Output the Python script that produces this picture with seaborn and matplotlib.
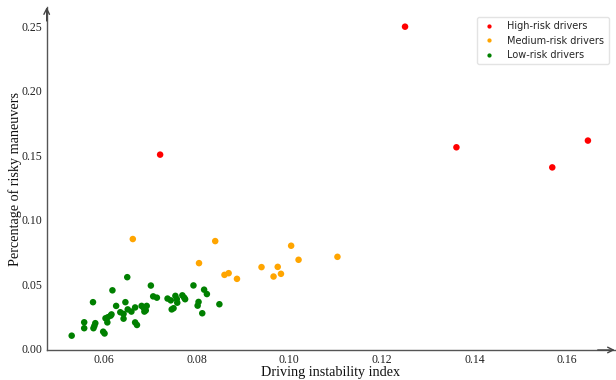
import matplotlib
matplotlib.use("Agg")
import matplotlib.pyplot as plt
import seaborn as sns
import pandas as pd

# ---- data ----
high_x = [0.0721, 0.1250, 0.1361, 0.1568, 0.1645]
high_y = [0.1506, 0.2499, 0.1563, 0.1407, 0.1615]

medium_x = [0.0662, 0.0840, 0.1004, 0.1104, 0.1020, 0.0805, 0.0860,
            0.0869, 0.0887, 0.0940, 0.0975, 0.0966, 0.0982]
medium_y = [0.0851, 0.0835, 0.0799, 0.0713, 0.0690, 0.0664, 0.0573,
            0.0586, 0.0542, 0.0633, 0.0635, 0.0560, 0.0581]

low_x = [0.0530, 0.0557, 0.0557, 0.0576, 0.0577, 0.0581, 0.0579, 0.0598,
         0.0601, 0.0603, 0.0607, 0.0608, 0.0614, 0.0616, 0.0618, 0.0626,
         0.0635, 0.0642, 0.0642, 0.0646, 0.0650, 0.0651, 0.0659, 0.0667,
         0.0667, 0.0671, 0.0681, 0.0685, 0.0687, 0.0692, 0.0690, 0.0701,
         0.0706, 0.0714, 0.0737, 0.0744, 0.0746, 0.0750, 0.0754, 0.0757,
         0.0758, 0.0769, 0.0773, 0.0775, 0.0793, 0.0804, 0.0802, 0.0812,
         0.0816, 0.0822, 0.0849]
low_y = [0.0101, 0.0205, 0.0159, 0.0361, 0.0159, 0.0198, 0.0177, 0.0132,
         0.0118, 0.0236, 0.0204, 0.0244, 0.0256, 0.0266, 0.0453, 0.0332,
         0.0283, 0.0270, 0.0233, 0.0361, 0.0555, 0.0305, 0.0288, 0.0320,
         0.0204, 0.0184, 0.0332, 0.0319, 0.0288, 0.0332, 0.0297, 0.0490,
         0.0406, 0.0396, 0.0389, 0.0375, 0.0305, 0.0314, 0.0410, 0.0385,
         0.0357, 0.0414, 0.0396, 0.0384, 0.0491, 0.0363, 0.0334, 0.0275,
         0.0458, 0.0424, 0.0345]

groups = ["High-risk drivers", "Medium-risk drivers", "Low-risk drivers"]
colors = ["red", "orange", "green"]
x_ticks = [0.06, 0.08, 0.10, 0.12, 0.14, 0.16]
y_ticks = [0.00, 0.05, 0.10, 0.15, 0.20, 0.25]

df = pd.concat([
    pd.DataFrame({"x": high_x, "y": high_y, "group": groups[0]}),
    pd.DataFrame({"x": medium_x, "y": medium_y, "group": groups[1]}),
    pd.DataFrame({"x": low_x, "y": low_y, "group": groups[2]}),
], ignore_index=True)

sns.set_style("white")
fig = plt.figure(figsize=(6.16, 3.80), dpi=100)
ax = fig.add_axes([0.0758, 0.079, 0.9222, 0.902])

sns.scatterplot(data=df, x="x", y="y", hue="group", hue_order=groups,
                palette=dict(zip(groups, colors)), s=22, linewidth=0,
                ax=ax)

ax.set_xlim(0.0476, 0.1703)
ax.set_ylim(-0.0010, 0.2650)
ax.set_xticks(x_ticks)
ax.set_yticks(y_ticks)
ax.set_xticklabels([f"{v:.2f}" for v in x_ticks])
ax.set_yticklabels([f"{v:.2f}" for v in y_ticks])

serif = "Liberation Serif"
for lab in ax.get_xticklabels() + ax.get_yticklabels():
    lab.set_fontfamily(serif)
    lab.set_fontsize(8.5)
    lab.set_color("#222222")

ax.set_xlabel("Driving instability index", fontfamily=serif, fontsize=10.2,
              color="#111111", labelpad=0)
ax.set_ylabel("Percentage of risky maneuvers", fontfamily=serif, fontsize=10.2,
              color="#111111", labelpad=-0.5)

ax.spines["top"].set_visible(False)
ax.spines["right"].set_visible(False)
for sp in ("left", "bottom"):
    ax.spines[sp].set_color("#555555")
    ax.spines[sp].set_linewidth(1.0)
ax.tick_params(axis="both", direction="in", length=3, width=0.8,
               color="#777777", pad=3)

# arrows at the ends of the axes
ax.annotate("", xy=(0, 1.0), xytext=(0, 0.96), xycoords="axes fraction",
            arrowprops=dict(arrowstyle="->", color="#444444", lw=1.0,
                            shrinkA=0, shrinkB=0, mutation_scale=10))
ax.annotate("", xy=(1.0, 0), xytext=(0.97, 0), xycoords="axes fraction",
            arrowprops=dict(arrowstyle="->", color="#444444", lw=1.0,
                            shrinkA=0, shrinkB=0, mutation_scale=10))

handles, labels = ax.get_legend_handles_labels()
ax.legend(handles, labels, loc="upper right", bbox_to_anchor=(0.9894, 0.972),
          borderaxespad=0,
          prop={"family": "DejaVu Sans", "size": 7}, frameon=True,
          edgecolor="#dddddd", fancybox=True, markerscale=0.65,
          handlelength=1.6, handletextpad=1.1, borderpad=0.45,
          labelspacing=0.45)

fig.savefig("out.png", dpi=100, facecolor="white")
